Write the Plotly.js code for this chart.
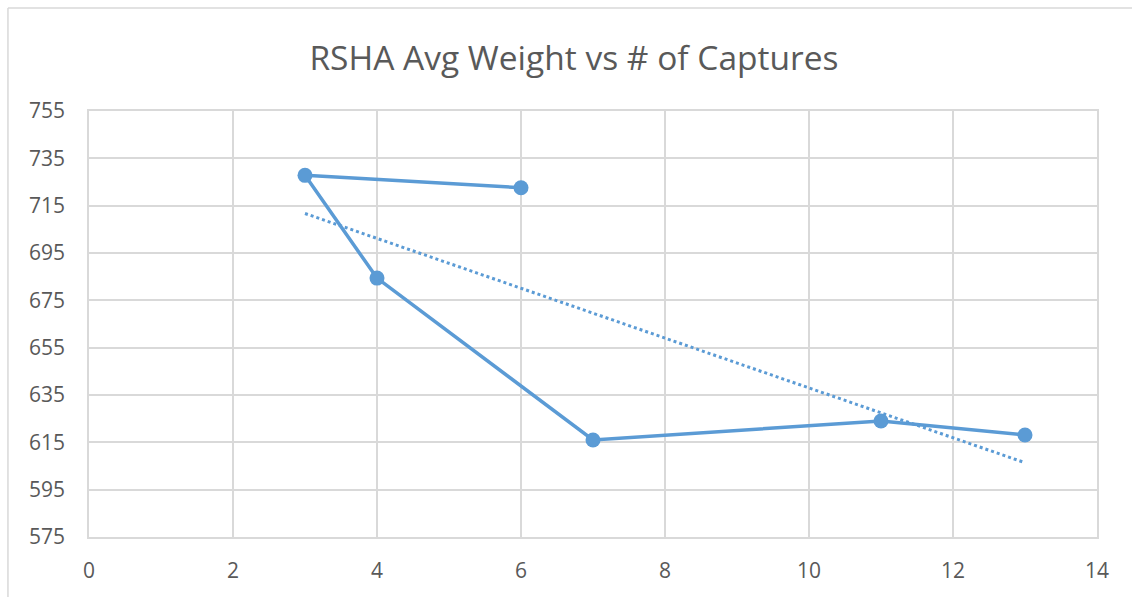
<!DOCTYPE html>
<html>
<head>
<meta charset="utf-8">
<script src="https://cdn.plot.ly/plotly-3.0.1.min.js"></script>
<style>html,body{margin:0;padding:0;background:#fff;}#chart{width:1132px;height:597px;}</style>
</head>
<body>
<div id="chart"></div>
<script>
// Data
const captures = [6, 3, 4, 7, 11, 13];
const avgWeight = [722.6, 727.8, 684.4, 616.0, 624.0, 618.1];
// Linear trendline endpoints (dotted)
const trendX = [3, 13];
const trendY = [711.7, 606.4];
const xTicks = [0, 2, 4, 6, 8, 10, 12, 14];
const yTicks = [575, 595, 615, 635, 655, 675, 695, 715, 735, 755];

const blue = '#5b9bd5';
const grid = '#d9d9d9';
const font = 'Open Sans, Lato, sans-serif';

const traces = [
  {
    x: captures, y: avgWeight, type: 'scatter', mode: 'lines+markers',
    line: {color: blue, width: 3.5},
    marker: {color: blue, size: 15},
    hoverinfo: 'x+y', showlegend: false
  },
  {
    x: trendX, y: trendY, type: 'scatter', mode: 'lines',
    line: {color: blue, width: 3, dash: 'dot'},
    hoverinfo: 'skip', showlegend: false
  }
];

const layout = {
  width: 1132, height: 597,
  margin: {l: 89, r: 35, t: 111, b: 60, pad: 0},
  paper_bgcolor: '#fff', plot_bgcolor: '#fff',
  font: {family: font, color: '#595959'},
  title: {
    text: 'RSHA Avg Weight vs # of Captures',
    font: {family: font, size: 33.5, color: '#595959'},
    x: 0.507, xref: 'container', xanchor: 'center',
    y: 0.903, yref: 'container', yanchor: 'middle'
  },
  xaxis: {
    range: [0, 14], tickvals: xTicks, ticktext: xTicks.map(String),
    showgrid: true, gridcolor: grid, gridwidth: 1.5,
    showline: true, linecolor: grid, linewidth: 1.5, mirror: true,
    zeroline: false, ticks: '',
    tickfont: {family: font, size: 21, color: '#595959'},
    ticklabelstandoff: 14
  },
  yaxis: {
    range: [575, 755], tickvals: yTicks, ticktext: yTicks.map(String),
    showgrid: true, gridcolor: grid, gridwidth: 1.5,
    showline: true, linecolor: grid, linewidth: 1.5, mirror: true,
    zeroline: false, ticks: '',
    tickfont: {family: font, size: 21, color: '#595959'},
    ticklabelstandoff: 18
  },
  shapes: [
    {type: 'line', xref: 'paper', yref: 'paper', x0: -0.0804, x1: -0.0804, y0: -0.2, y1: 1.2418,
     line: {color: grid, width: 1.5}, layer: 'above'},
    {type: 'line', xref: 'paper', yref: 'paper', x0: -0.0804, x1: 1.1, y0: 1.2418, y1: 1.2418,
     line: {color: grid, width: 1.5}, layer: 'above'}
  ]
};

Plotly.newPlot('chart', traces, layout, {displayModeBar: false, responsive: false});
</script>
</body>
</html>
